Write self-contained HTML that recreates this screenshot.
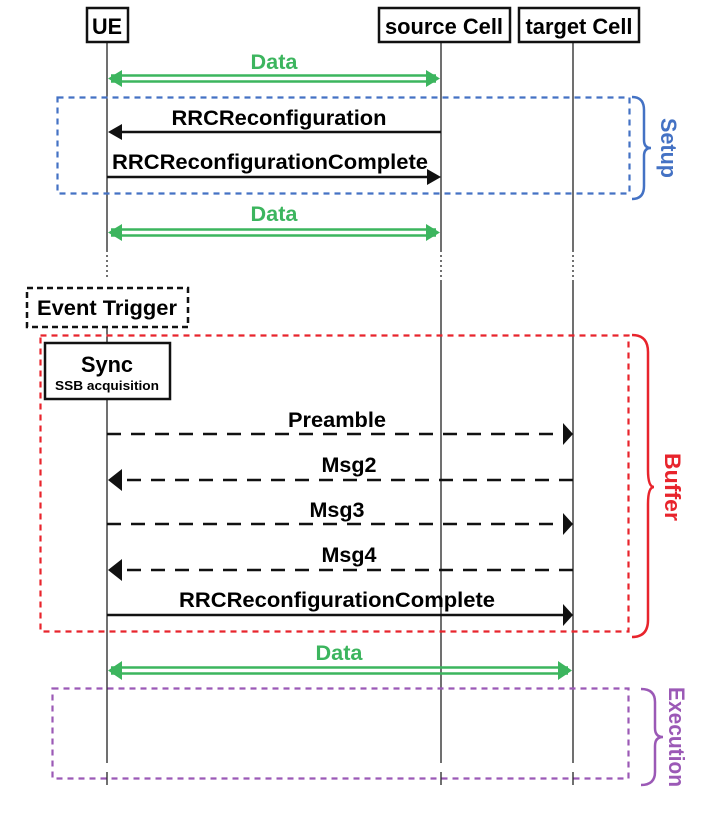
<!DOCTYPE html>
<html><head><meta charset="utf-8"><style>html,body{margin:0;padding:0;background:#fff}svg{display:block}text{font-family:"Liberation Sans",Arial,sans-serif;font-weight:bold}</style></head><body>
<svg width="717" height="813" viewBox="0 0 717 813" xmlns="http://www.w3.org/2000/svg">
<!-- lifelines -->
<g stroke="#111" stroke-width="1.2">
<line x1="107" y1="42" x2="107" y2="250"/><line x1="107" y1="250" x2="107" y2="280" stroke-dasharray="2,3"/>
<line x1="107" y1="327" x2="107" y2="763"/><line x1="107" y1="772" x2="107" y2="785"/>
<line x1="441" y1="42" x2="441" y2="250"/><line x1="441" y1="250" x2="441" y2="280" stroke-dasharray="2,3"/>
<line x1="441" y1="280" x2="441" y2="763"/><line x1="441" y1="772" x2="441" y2="785"/>
<line x1="573" y1="42" x2="573" y2="250"/><line x1="573" y1="250" x2="573" y2="280" stroke-dasharray="2,3"/>
<line x1="573" y1="280" x2="573" y2="763"/><line x1="573" y1="772" x2="573" y2="785"/>
</g>
<!-- header boxes -->
<g fill="#fff" stroke="#111" stroke-width="2.5">
<rect x="87" y="8" width="41" height="34"/><rect x="379" y="8" width="131" height="34"/><rect x="519" y="8" width="120" height="34"/>
</g>
<text x="107" y="34" font-size="22" text-anchor="middle" textLength="30" lengthAdjust="spacingAndGlyphs">UE</text>
<text x="444" y="34" font-size="22" text-anchor="middle" textLength="118" lengthAdjust="spacingAndGlyphs">source Cell</text>
<text x="579" y="34" font-size="22" text-anchor="middle" textLength="107" lengthAdjust="spacingAndGlyphs">target Cell</text>
<!-- Setup box -->
<rect x="57.5" y="97.5" width="572" height="96" fill="none" stroke="#4472c4" stroke-width="2.2" stroke-dasharray="6,5"/>
<path d="M632,97 Q644,97 644,110 L644,140 Q644,148 651,148 Q644,148 644,156 L644,186 Q644,199 632,199" fill="none" stroke="#4472c4" stroke-width="2.5"/>
<text transform="translate(661,148) rotate(90)" font-size="22" fill="#4472c4" text-anchor="middle" textLength="60" lengthAdjust="spacingAndGlyphs">Setup</text>
<!-- Data 1 -->
<g stroke="#3cb55e" stroke-width="2.5"><line x1="111" y1="75.5" x2="436" y2="75.5"/><line x1="111" y1="81.5" x2="436" y2="81.5"/></g>
<path d="M108,78.5 L122,70 L122,87 Z M440,78.5 L426,70 L426,87 Z" fill="#3cb55e"/>
<text x="274" y="69" font-size="21" fill="#3cb55e" text-anchor="middle" textLength="47" lengthAdjust="spacingAndGlyphs">Data</text>
<!-- RRC -->
<line x1="441" y1="132" x2="115" y2="132" stroke="#111" stroke-width="2.5"/><path d="M108,132 L122,124 L122,140 Z" fill="#111"/>
<text x="279" y="125" font-size="21" text-anchor="middle" textLength="215" lengthAdjust="spacingAndGlyphs">RRCReconfiguration</text>
<line x1="107" y1="177" x2="433" y2="177" stroke="#111" stroke-width="2.5"/><path d="M441,177 L427,169 L427,185 Z" fill="#111"/>
<text x="270" y="169" font-size="21" text-anchor="middle" textLength="316" lengthAdjust="spacingAndGlyphs">RRCReconfigurationComplete</text>
<!-- Data 2 -->
<g stroke="#3cb55e" stroke-width="2.5"><line x1="111" y1="229.5" x2="436" y2="229.5"/><line x1="111" y1="235.5" x2="436" y2="235.5"/></g>
<path d="M108,232.5 L122,224 L122,241 Z M440,232.5 L426,224 L426,241 Z" fill="#3cb55e"/>
<text x="274" y="221" font-size="21" fill="#3cb55e" text-anchor="middle" textLength="47" lengthAdjust="spacingAndGlyphs">Data</text>
<!-- Event trigger -->
<rect x="27" y="288" width="161" height="39" fill="#fff" stroke="#111" stroke-width="2.5" stroke-dasharray="6,4"/>
<text x="107" y="315" font-size="21" text-anchor="middle" textLength="140" lengthAdjust="spacingAndGlyphs">Event Trigger</text>
<!-- Buffer -->
<rect x="40.5" y="335.5" width="588" height="296" fill="none" stroke="#e8242c" stroke-width="2.2" stroke-dasharray="6,5"/>
<path d="M632,335 Q648,335 648,352 L648,470 Q648,487 654,487 Q648,487 648,504 L648,620 Q648,637 632,637" fill="none" stroke="#e8242c" stroke-width="2.5"/>
<text transform="translate(665,487) rotate(90)" font-size="22" fill="#e8242c" text-anchor="middle" textLength="68" lengthAdjust="spacingAndGlyphs">Buffer</text>
<rect x="45" y="343" width="125" height="56" fill="#fff" stroke="#111" stroke-width="2.5"/>
<text x="107" y="372" font-size="22" text-anchor="middle" textLength="52" lengthAdjust="spacingAndGlyphs">Sync</text>
<text x="107" y="390" font-size="13" text-anchor="middle" textLength="104" lengthAdjust="spacingAndGlyphs">SSB acquisition</text>
<!-- dashed msgs -->
<g stroke="#111" stroke-width="2.5" stroke-dasharray="14,10">
<line x1="107" y1="434" x2="562" y2="434"/><line x1="573" y1="480" x2="120" y2="480"/>
<line x1="107" y1="524" x2="562" y2="524"/><line x1="573" y1="570" x2="120" y2="570"/>
</g>
<path d="M573,434 L563,423 L563,445 Z M108,480 L122,469 L122,491 Z M573,524 L563,513 L563,535 Z M108,570 L122,559 L122,581 Z" fill="#111"/>
<text x="337" y="427" font-size="21" text-anchor="middle" textLength="98" lengthAdjust="spacingAndGlyphs">Preamble</text>
<text x="349" y="472" font-size="21" text-anchor="middle" textLength="55" lengthAdjust="spacingAndGlyphs">Msg2</text>
<text x="337" y="517" font-size="21" text-anchor="middle" textLength="55" lengthAdjust="spacingAndGlyphs">Msg3</text>
<text x="349" y="562" font-size="21" text-anchor="middle" textLength="55" lengthAdjust="spacingAndGlyphs">Msg4</text>
<line x1="107" y1="615" x2="563" y2="615" stroke="#111" stroke-width="2.5"/><path d="M573,615 L563,604 L563,626 Z" fill="#111"/>
<text x="337" y="607" font-size="21" text-anchor="middle" textLength="316" lengthAdjust="spacingAndGlyphs">RRCReconfigurationComplete</text>
<!-- Data 3 -->
<g stroke="#3cb55e" stroke-width="2.5"><line x1="111" y1="667.5" x2="568" y2="667.5"/><line x1="111" y1="673.5" x2="568" y2="673.5"/></g>
<path d="M108,670.5 L122,661 L122,680 Z M572,670.5 L558,661 L558,680 Z" fill="#3cb55e"/>
<text x="339" y="660" font-size="21" fill="#3cb55e" text-anchor="middle" textLength="47" lengthAdjust="spacingAndGlyphs">Data</text>
<!-- Execution -->
<rect x="52.5" y="688.5" width="576" height="90" fill="none" stroke="#9b59b6" stroke-width="2.2" stroke-dasharray="6,5"/>
<path d="M641,689 Q655,689 655,702 L655,728 Q655,737 663,737 Q655,737 655,746 L655,772 Q655,785 641,785" fill="none" stroke="#9b59b6" stroke-width="2.5"/>
<text transform="translate(669,737) rotate(90)" font-size="22" fill="#9b59b6" text-anchor="middle" textLength="100" lengthAdjust="spacingAndGlyphs">Execution</text>
</svg>
</body></html>
